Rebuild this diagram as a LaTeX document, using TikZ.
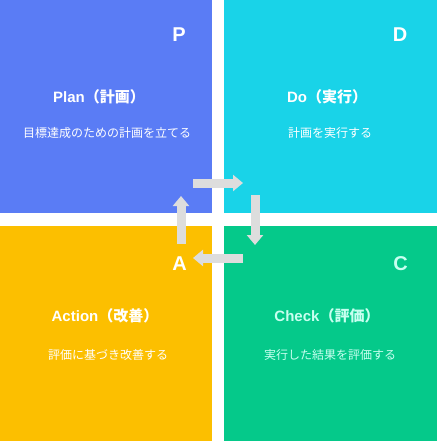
\documentclass[tikz,border=0pt]{standalone}
\usepackage{fontspec}
\setmainfont{Liberation Sans}
\newfontfamily\cjk{Noto Sans CJK JP}
\usetikzlibrary{arrows.meta}
\definecolor{qblue}{HTML}{5A7CF5}
\definecolor{qcyan}{HTML}{19D3E8}
\definecolor{qamber}{HTML}{FCBF00}
\definecolor{qgreen}{HTML}{05C98A}
\definecolor{arrowgray}{HTML}{DDDDDD}
\definecolor{mint}{HTML}{C8FFF0}
\tikzset{
  quad/.style={draw=none, inner sep=0pt, anchor=north west},
  letter/.style={font=\bfseries\fontsize{20}{22}\selectfont, text=white, inner sep=0pt},
  ttl/.style={font=\bfseries\fontsize{15}{17}\selectfont, text=white, inner sep=0pt},
  sub/.style={font=\cjk\fontsize{12}{14}\selectfont, text=white, inner sep=0pt},
  cyc/.style={draw=arrowgray, line width=9pt, -{Triangle[width=16pt,length=10pt]}}
}
\begin{document}
\begin{tikzpicture}[x=1pt,y=-1pt]
\useasboundingbox (0,0) rectangle (437,441);
\fill[white] (0,0) rectangle (437,441);
% quadrants
\node[quad, fill=qblue,  minimum width=212pt, minimum height=213pt] (qp) at (0,0) {};
\node[quad, fill=qcyan,  minimum width=213pt, minimum height=213pt] (qd) at (224,0) {};
\node[quad, fill=qamber, minimum width=212pt, minimum height=215pt] (qa) at (0,226) {};
\node[quad, fill=qgreen, minimum width=213pt, minimum height=215pt] (qc) at (224,226) {};
% letters
\node[letter] (lp) at (179,35) {P};
\node[letter] (ld) at (400,35) {D};
\node[letter] (la) at (179.5,264) {A};
\node[letter, text=mint] (lc) at (400.5,264) {C};
% titles
\node[ttl] (tp) at (99,97) {Plan{\cjk （計画）}};
\node[ttl] (td) at (327,97) {Do{\cjk （実行）}};
\node[ttl] (ta) at (105,316) {Action{\cjk （改善）}};
\node[ttl, text=mint] (tc) at (327,316) {Check{\cjk （評価）}};
% subtitles
\node[sub] (sp) at (107,133) {目標達成のための計画を立てる};
\node[sub] (sd) at (330,133) {計画を実行する};
\node[sub] (sa) at (108,355) {評価に基づき改善する};
\node[sub, text=mint] (sc) at (330,355) {実行した結果を評価する};
% cycle arrows
\coordinate (r1) at (193,183);
\coordinate (r2) at (243,183);
\coordinate (d1) at (255,195);
\coordinate (d2) at (255,245);
\coordinate (l1) at (243,258);
\coordinate (l2) at (193,258);
\coordinate (u1) at (181,244);
\coordinate (u2) at (181,196);
\draw[cyc] (r1) -- (r2);
\draw[cyc] (d1) -- (d2);
\draw[cyc] (l1) -- (l2);
\draw[cyc] (u1) -- (u2);
\end{tikzpicture}
\end{document}
